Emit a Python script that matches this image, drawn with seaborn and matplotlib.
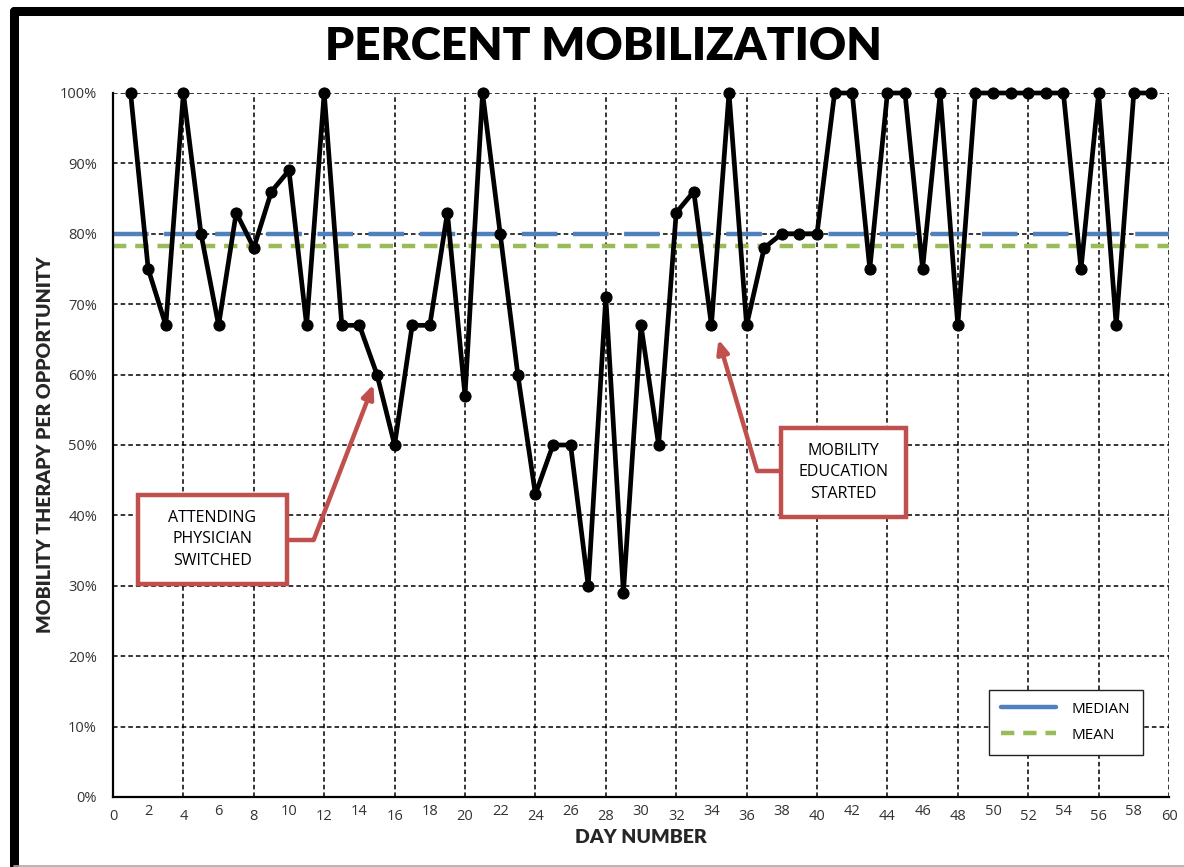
import matplotlib
matplotlib.use("Agg")
import matplotlib.pyplot as plt
from matplotlib.lines import Line2D
from matplotlib.patches import Rectangle
from matplotlib.ticker import MultipleLocator, FixedLocator, FuncFormatter
import numpy as np
import pandas as pd
import seaborn as sns

# Daily percentage of mobility therapy delivered per opportunity
days = list(range(1, 60))
mobilization_pct = [
    100, 75, 67, 100, 80, 67, 83, 78, 86, 89,
    67, 100, 67, 67, 60, 50, 67, 67, 83, 57,
    100, 80, 60, 43, 50, 50, 30, 71, 29, 67,
    50, 83, 86, 67, 100, 67, 78, 80, 80, 80,
    100, 100, 75, 100, 100, 75, 100, 67, 100, 100,
    100, 100, 100, 100, 75, 100, 67, 100, 100,
]
x_ticks = list(range(0, 61, 2))
y_ticks = list(range(0, 101, 10))

df = pd.DataFrame({"day": days, "pct": mobilization_pct})
median_val = float(np.median(df["pct"]))
mean_val = float(np.mean(df["pct"]))

sns.set_style("white")
plt.rcParams["font.family"] = ["Open Sans", "DejaVu Sans"]
plt.rcParams["text.color"] = "black"

fig = plt.figure(figsize=(11.84, 8.67), dpi=100)
ax = fig.add_axes([113 / 1184, 1 - 797 / 867, 1056 / 1184, 704 / 867])

# reference lines for median and mean
ax.axhline(median_val, color="#4F81BD", lw=3.2, dashes=(8, 3.5), zorder=2)
ax.axhline(mean_val, color="#9BBB59", lw=3.2, dashes=(3, 2), zorder=2)

sns.lineplot(data=df, x="day", y="pct", ax=ax, color="black", lw=3.4,
             marker="o", markersize=8, markeredgecolor="black", zorder=4,
             clip_on=False)

ax.set_xlim(0, 60)
ax.set_ylim(0, 100)

# grid: vertical every 4 days, horizontal every 10 %
ax.xaxis.set_major_locator(MultipleLocator(4))
ax.xaxis.set_minor_locator(FixedLocator([t for t in x_ticks if t % 4 != 0]))
ax.yaxis.set_major_locator(FixedLocator(y_ticks))
fmt_x = FuncFormatter(lambda v, p: f"{int(v)}")
ax.xaxis.set_major_formatter(fmt_x)
ax.xaxis.set_minor_formatter(fmt_x)
ax.yaxis.set_major_formatter(FuncFormatter(lambda v, p: f"{int(v)}%"))
ax.grid(True, which="major", color="black", lw=1.1, ls=(0, (3, 2)), zorder=1)
ax.set_axisbelow(True)

for side in ("top", "right"):
    ax.spines[side].set_visible(False)
for side in ("left", "bottom"):
    ax.spines[side].set_color("black")
    ax.spines[side].set_linewidth(1.6)

ax.tick_params(axis="both", which="major", direction="inout", length=7,
               width=1.2, color="black", labelsize=10.5, labelcolor="#333333")
ax.tick_params(axis="x", which="minor", length=0, labelsize=10.5,
               labelcolor="#333333")
ax.tick_params(axis="x", which="both", pad=5)
ax.tick_params(axis="y", pad=8)

ax.set_xlabel("DAY NUMBER", fontsize=14, fontweight="heavy",
              family=["Lato", "DejaVu Sans"], labelpad=4)
ax.set_ylabel("MOBILITY THERAPY PER OPPORTUNITY", fontsize=14,
              fontweight="heavy", family=["Lato", "DejaVu Sans"], labelpad=4)

fig.text(603 / 1184, 1 - 46 / 867, "PERCENT MOBILIZATION", ha="center",
         va="center", fontsize=33, fontweight="heavy", color="black",
         family=["Lato", "DejaVu Sans"])

# annotations
red = "#C0504D"
ax.add_patch(Rectangle((1.42, 30.3), 8.47, 12.6, fc="white", ec=red, lw=3.2,
                       zorder=6))
ax.text(5.65, 36.6, "ATTENDING\nPHYSICIAN\nSWITCHED", ha="center",
        va="center", fontsize=11.5, linespacing=1.45, zorder=7)
ax.plot([9.89, 11.4], [36.5, 36.5], color=red, lw=3.2, zorder=5,
        solid_capstyle="butt")
ax.annotate("", xy=(14.8, 58.6), xytext=(11.4, 36.5),
            arrowprops=dict(arrowstyle="-|>,head_length=0.8,head_width=0.35",
                            color=red, lw=3.2, shrinkA=0, shrinkB=0), zorder=5)

ax.add_patch(Rectangle((37.95, 39.8), 7.1, 12.6, fc="white", ec=red, lw=3.2,
                       zorder=6))
ax.text(41.5, 46.1, "MOBILITY\nEDUCATION\nSTARTED", ha="center",
        va="center", fontsize=11.5, linespacing=1.45, zorder=7)
ax.plot([37.95, 36.6], [46.3, 46.3], color=red, lw=3.2, zorder=5,
        solid_capstyle="butt")
ax.annotate("", xy=(34.4, 65.0), xytext=(36.6, 46.3),
            arrowprops=dict(arrowstyle="-|>,head_length=0.8,head_width=0.35",
                            color=red, lw=3.2, shrinkA=0, shrinkB=0), zorder=5)

# legend
handles = [
    Line2D([], [], color="#4F81BD", lw=3.2),
    Line2D([], [], color="#9BBB59", lw=3.2, dashes=(3, 2)),
]
leg = ax.legend(handles, ["MEDIAN", "MEAN"], loc="lower right",
                bbox_to_anchor=(0.975, 0.06), frameon=True, fancybox=False,
                edgecolor="#222222", framealpha=1, fontsize=11,
                handlelength=3.6, handletextpad=1.0, borderpad=0.8,
                labelspacing=0.7, borderaxespad=0)
leg.get_frame().set_linewidth(1.0)
leg.set_zorder(8)

# outer frame
fig.add_artist(Line2D([14 / 1184, 14 / 1184], [0, 1 - 11 / 867],
                      transform=fig.transFigure, color="black", lw=6.5,
                      solid_capstyle="round"))
fig.add_artist(Line2D([14 / 1184, 1], [1 - 11 / 867, 1 - 11 / 867],
                      transform=fig.transFigure, color="black", lw=6.5,
                      solid_capstyle="round"))
fig.add_artist(Line2D([14 / 1184, 1], [1 / 867, 1 / 867],
                      transform=fig.transFigure, color="#AAAAAA", lw=1.2))

fig.savefig("out.png", dpi=100)
